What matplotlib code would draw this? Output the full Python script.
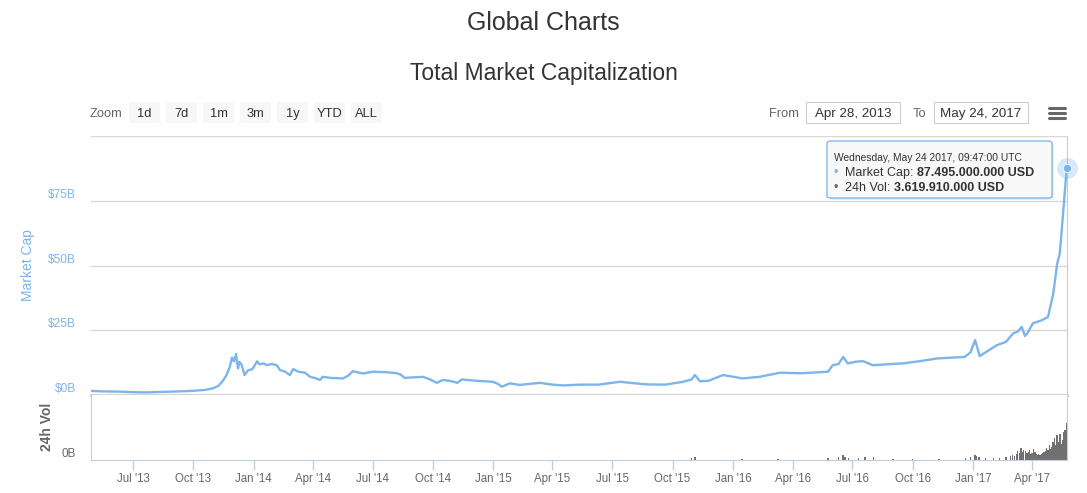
import matplotlib
matplotlib.use("Agg")
import matplotlib.pyplot as plt
import matplotlib.dates as mdates
from matplotlib.patches import FancyBboxPatch, Rectangle
from matplotlib.lines import Line2D
import pandas as pd

plt.rcParams['font.family'] = ['Liberation Sans', 'DejaVu Sans']

# market cap, billions USD
mcap_dates = ['2013-04-28', '2013-05-15', '2013-06-10', '2013-07-01', '2013-07-20', '2013-08-15',
              '2013-09-10', '2013-09-30', '2013-10-20', '2013-10-31', '2013-11-08', '2013-11-15',
              '2013-11-20', '2013-11-25', '2013-11-29', '2013-12-02', '2013-12-05', '2013-12-08',
              '2013-12-10', '2013-12-13', '2013-12-18', '2013-12-23', '2013-12-30', '2014-01-06',
              '2014-01-10', '2014-01-16', '2014-01-21', '2014-01-28', '2014-02-05', '2014-02-10',
              '2014-02-18', '2014-02-25', '2014-03-02', '2014-03-10', '2014-03-20', '2014-03-28',
              '2014-04-05', '2014-04-12', '2014-04-16', '2014-04-28', '2014-05-17', '2014-05-25',
              '2014-06-01', '2014-06-16', '2014-07-02', '2014-07-20', '2014-08-05', '2014-08-12',
              '2014-08-19', '2014-09-01', '2014-09-16', '2014-09-25', '2014-10-07', '2014-10-16',
              '2014-10-28', '2014-11-07', '2014-11-14', '2014-12-01', '2014-12-31', '2015-01-08',
              '2015-01-14', '2015-01-26', '2015-02-10', '2015-03-13', '2015-04-01', '2015-04-17',
              '2015-05-13', '2015-06-10', '2015-07-13', '2015-08-01', '2015-08-23', '2015-09-20',
              '2015-10-17', '2015-10-30', '2015-11-04', '2015-11-12', '2015-11-25', '2015-12-17',
              '2016-01-16', '2016-02-10', '2016-03-13', '2016-04-15', '2016-05-25', '2016-06-01',
              '2016-06-10', '2016-06-17', '2016-06-24', '2016-07-05', '2016-07-17', '2016-08-01',
              '2016-08-20', '2016-09-16', '2016-10-10', '2016-11-07', '2016-12-19', '2016-12-28',
              '2017-01-04', '2017-01-11', '2017-01-20', '2017-02-06', '2017-02-20', '2017-03-03',
              '2017-03-10', '2017-03-16', '2017-03-21', '2017-03-25', '2017-04-02', '2017-04-15',
              '2017-04-25', '2017-05-03', '2017-05-09', '2017-05-13', '2017-05-18', '2017-05-22',
              '2017-05-24']
mcap_vals = [1.6, 1.4, 1.3, 1.1, 1.0, 1.2,
             1.4, 1.6, 2.0, 2.6, 3.5, 5.5,
             7.5, 10.5, 14.5, 13.0, 15.8, 10.3,
             12.7, 12.0, 7.7, 9.5, 10.0, 13.0,
             11.8, 12.2, 11.5, 12.0, 11.5, 9.6,
             9.0, 7.7, 10.0, 9.0, 8.6, 7.0,
             6.5, 5.8, 7.0, 6.6, 6.4, 7.5,
             9.2, 8.3, 9.0, 8.8, 8.5, 8.0,
             6.6, 6.8, 7.0, 6.2, 4.7, 5.8,
             5.4, 4.7, 6.0, 5.6, 5.1, 4.3,
             3.2, 4.5, 3.9, 4.7, 4.0, 3.7,
             4.0, 4.0, 5.1, 4.6, 4.1, 4.0,
             5.1, 6.0, 7.7, 5.3, 5.5, 7.7,
             6.4, 7.0, 8.6, 8.4, 9.0, 11.5,
             12.0, 14.7, 12.2, 12.8, 13.1, 11.5,
             11.8, 12.2, 13.0, 14.1, 14.7, 16.5,
             21.2, 15.0, 16.5, 19.2, 20.5, 23.8,
             24.5, 26.3, 22.8, 24.0, 27.7, 28.8,
             30.1, 39.0, 50.7, 54.6, 70.0, 82.7,
             87.5]

# 24h volume, billions USD
vol_dates = ['2015-10-30', '2015-11-04', '2016-01-15', '2016-03-10', '2016-05-25', '2016-06-10',
             '2016-06-17', '2016-06-20', '2016-06-25', '2016-07-10', '2016-07-20', '2016-08-02',
             '2016-09-01', '2016-10-01', '2016-11-10', '2016-12-20', '2016-12-28', '2017-01-04',
             '2017-01-06', '2017-01-10', '2017-01-20', '2017-02-01', '2017-02-10', '2017-02-20',
             '2017-02-27', '2017-03-02', '2017-03-05', '2017-03-08', '2017-03-10', '2017-03-13',
             '2017-03-15', '2017-03-17', '2017-03-19', '2017-03-22', '2017-03-24', '2017-03-26',
             '2017-03-28', '2017-03-30', '2017-04-01', '2017-04-03', '2017-04-05', '2017-04-07',
             '2017-04-09', '2017-04-11', '2017-04-13', '2017-04-15', '2017-04-17', '2017-04-19',
             '2017-04-21', '2017-04-23', '2017-04-25', '2017-04-27', '2017-04-29', '2017-05-01',
             '2017-05-03', '2017-05-05', '2017-05-07', '2017-05-09', '2017-05-11', '2017-05-13',
             '2017-05-15', '2017-05-17', '2017-05-19', '2017-05-21', '2017-05-23', '2017-05-24']
vol_vals = [0.15, 0.25, 0.12, 0.1, 0.15, 0.25,
            0.45, 0.3, 0.2, 0.15, 0.3, 0.25,
            0.12, 0.1, 0.1, 0.15, 0.3, 0.5,
            0.35, 0.25, 0.15, 0.2, 0.2, 0.25,
            0.35, 0.5, 0.4, 0.6, 0.9, 0.7,
            1.2, 0.8, 1.0, 0.9, 0.7, 0.8,
            1.0, 0.6, 0.7, 1.1, 0.8, 0.6,
            0.5, 0.6, 0.5, 0.6, 0.7, 0.8,
            0.9, 1.2, 1.0, 1.5, 1.1, 1.3,
            1.8, 2.2, 1.5, 2.5, 1.8, 2.6,
            1.6, 2.0, 2.8, 3.0, 2.7, 3.62]

ytick_vals = [0, 25, 50, 75, 100]
ytick_labels = ['$0B', '$25B', '$50B', '$75B', '']
zoom_buttons = ['1d', '7d', '1m', '3m', '1y', 'YTD', 'ALL']
range_from = 'Apr 28, 2013'
range_to = 'May 24, 2017'

BLUE = '#7cb5ec'
W, H = 1087, 493


def fx(px):
    return px / W


def fy(py):
    return 1 - py / H


mdates_x = pd.to_datetime(mcap_dates)
vdates_x = pd.to_datetime(vol_dates)
xmin, xmax = pd.Timestamp(range_from), pd.Timestamp(range_to)

fig = plt.figure(figsize=(W / 100, H / 100), dpi=100)

ax = fig.add_axes([fx(91), fy(395), fx(1067 - 91), (395 - 136) / H])
axv = fig.add_axes([fx(91), fy(460), fx(1067 - 91), (460 - 395) / H], sharex=ax)

# main line
ax.plot(mdates_x, mcap_vals, color=BLUE, lw=1.7, zorder=3, solid_joinstyle='round')
ax.plot(mdates_x[-1:], mcap_vals[-1:], 'o', ms=15, color=BLUE, alpha=0.3, mec='none', zorder=4, clip_on=False)
ax.plot(mdates_x[-1:], mcap_vals[-1:], 'o', ms=6, color=BLUE, mec='white', mew=0.6, zorder=5, clip_on=False)
ax.set_xlim(xmin, xmax)
ax.set_ylim(0, 100)
ax.set_yticks(ytick_vals)
ax.set_yticklabels(ytick_labels)
ax.grid(axis='y', color='#d8d8d8', lw=1)
ax.tick_params(axis='y', length=0, pad=11, labelsize=8.6, labelcolor=BLUE)
for lbl in ax.get_yticklabels():
    lbl.set_va('bottom')
ax.tick_params(axis='x', bottom=False, labelbottom=False)
for s in ['left', 'top']:
    ax.spines[s].set_visible(False)
ax.spines['right'].set_color('#cccccc')
ax.spines['bottom'].set_color('#d4d4d4')
ax.spines['bottom'].set_linewidth(2.2)

# volume
axv.bar(vdates_x, vol_vals, width=2.2, color='#707070', lw=0)
axv.set_ylim(0, 6.4)
axv.set_yticks([0])
axv.set_yticklabels(['0B'])
axv.tick_params(axis='y', length=0, pad=11, labelsize=8.4, labelcolor='#666666')
for lbl in axv.get_yticklabels():
    lbl.set_va('bottom')
axv.spines['top'].set_visible(False)
axv.spines['right'].set_color('#cccccc')
axv.spines['left'].set_color('#c0d0e0')
axv.spines['bottom'].set_color('#c0d0e0')
axv.xaxis.set_major_locator(mdates.MonthLocator(bymonth=[1, 4, 7, 10]))
axv.xaxis.set_major_formatter(mdates.DateFormatter("%b '%y"))
axv.tick_params(axis='x', length=7.5, width=1, color='#c0d0e0', labelsize=8.3, labelcolor='#666666', pad=2)

# titles
fig.text(0.5, fy(20), 'Global Charts', ha='center', va='center_baseline', fontsize=18, color='#333333')
fig.text(0.5, fy(71), 'Total Market Capitalization', ha='center', va='center_baseline', fontsize=16.5,
         color='#333333')

# axis titles
fig.text(fx(28), fy(265), 'Market Cap', rotation=90, ha='center', va='center', fontsize=10, color=BLUE)
fig.text(fx(47), fy(427), '24h Vol', rotation=90, ha='center', va='center', fontsize=10,
         color='#666666', fontweight='bold')

# range selector
fig.text(fx(90), fy(112.5), 'Zoom', ha='left', va='center_baseline', fontsize=9.3, color='#666666')
bx = 129
for b in zoom_buttons:
    fig.patches.append(FancyBboxPatch((fx(bx), fy(123)), fx(31), (123 - 102) / H,
                                      boxstyle='round,pad=0,rounding_size=0.002',
                                      transform=fig.transFigure, fc='#f7f7f7', ec='none'))
    fig.text(fx(bx + 15.5), fy(112.5), b, ha='center', va='center_baseline', fontsize=9.3, color='#333333')
    bx += 37

fig.text(fx(769), fy(112.5), 'From', ha='left', va='center_baseline', fontsize=9.3, color='#666666')
fig.text(fx(913), fy(112.5), 'To', ha='left', va='center_baseline', fontsize=9.3, color='#666666')
for x0, x1, txt in [(806, 900, range_from), (934, 1028, range_to)]:
    fig.patches.append(Rectangle((fx(x0), fy(123)), fx(x1 - x0), (123 - 102) / H,
                                 transform=fig.transFigure, fc='white', ec='#cccccc', lw=0.8))
    fig.text(fx((x0 + x1) / 2), fy(112.5), txt, ha='center', va='center_baseline', fontsize=9.6,
             color='#333333')

for yy in [108, 113, 118]:
    fig.add_artist(Line2D([fx(1049), fx(1065)], [fy(yy), fy(yy)], color='#666666', lw=2.2,
                          solid_capstyle='round', transform=fig.transFigure))

# tooltip
fig.patches.append(FancyBboxPatch((fx(829), fy(200)), fx(225), 57 / H,
                                  boxstyle='round,pad=0,rounding_size=0.004',
                                  transform=fig.transFigure, fc='#000000', ec='none', alpha=0.08))
fig.patches.append(FancyBboxPatch((fx(827), fy(198)), fx(225), 57 / H,
                                  boxstyle='round,pad=0,rounding_size=0.004',
                                  transform=fig.transFigure, fc='#f9f9f9', ec=BLUE, lw=1, alpha=0.95))
fig.text(fx(834), fy(157), 'Wednesday, May 24 2017, 09:47:00 UTC', ha='left', va='center_baseline',
         fontsize=7.4, color='#333333')
renderer = fig.canvas.get_renderer()
for yy, dot_col, label, value in [(171.5, BLUE, 'Market Cap: ', '87.495.000.000 USD'),
                                  (186.5, '#666666', '24h Vol: ', '3.619.910.000 USD')]:
    fig.text(fx(834), fy(yy), '\u2022', ha='left', va='center_baseline', fontsize=9, color=dot_col)
    t = fig.text(fx(845), fy(yy), label, ha='left', va='center_baseline', fontsize=9, color='#333333')
    bb = t.get_window_extent(renderer)
    fig.text(bb.x1 / W, fy(yy), value, ha='left', va='center_baseline', fontsize=9,
             color='#333333', fontweight='bold')

fig.savefig('out.png', dpi=100)
